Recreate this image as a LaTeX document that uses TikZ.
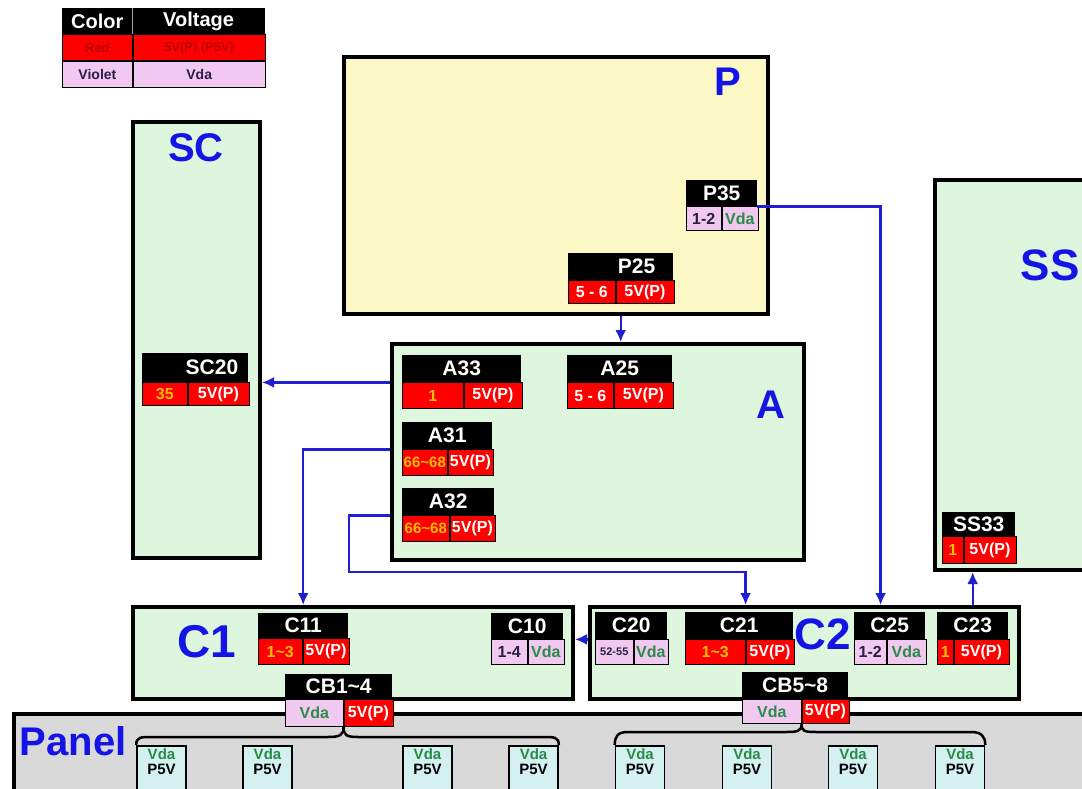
\documentclass[tikz,border=0pt]{standalone}
\usepackage{fontspec}
\setmainfont{Liberation Sans}
\usetikzlibrary{arrows.meta, positioning, calc}
\definecolor{boardgreen}{RGB}{221,246,221}
\definecolor{pyellow}{RGB}{252,248,198}
\definecolor{panelgray}{RGB}{217,217,217}
\definecolor{pincyan}{RGB}{212,240,240}
\definecolor{vio}{RGB}{240,200,240}
\definecolor{pinred}{RGB}{255,0,0}
\definecolor{pinyellow}{RGB}{255,190,0}
\definecolor{vdagreen}{RGB}{40,140,70}
\definecolor{labelblue}{RGB}{20,20,230}
\definecolor{wireblue}{RGB}{30,30,210}
\definecolor{darkvio}{RGB}{40,30,70}
\definecolor{darkred}{RGB}{185,0,0}
\newcommand{\fsz}[1]{\fontsize{#1}{#1}\selectfont\bfseries}

\begin{document}
\begin{tikzpicture}[
  x=1pt, y=-1pt,
  font=\fsz{16},
  >={Latex[length=12pt, width=11pt]},
  board/.style={draw, line width=4pt, fill=boardgreen, anchor=north west, inner sep=0pt},
  boardname/.style={text=labelblue, font=\fsz{40}},
  hdr/.style={fill=black, text=white, anchor=north west, inner sep=0pt, minimum height=27pt, font=\fsz{21}},
  cell/.style={draw, line width=0.6pt, anchor=north west, inner sep=0pt, font=\fsz{16}},
  cellw/.style={cell, fill=pinred, text=white},
  celly/.style={cell, fill=pinred, text=pinyellow},
  cellv/.style={cell, fill=vio, text=darkvio},
  cellg/.style={cell, fill=vio, text=vdagreen},
  lgh/.style={fill=black, text=white, anchor=north west, inner sep=0pt, minimum height=26pt, font=\fsz{20}},
  lgcell/.style={draw, line width=0.8pt, anchor=north west, inner sep=0pt, minimum height=26pt, font=\fsz{13}},
  pbox/.style={draw, line width=1.6pt, fill=pincyan, anchor=north, minimum width=49pt,
               inner sep=3pt, text depth=22pt, align=center, font=\fontsize{15}{15}\selectfont\bfseries},
  wire/.style={draw=wireblue, line width=2.4pt, ->},
  brace/.style={line width=2.5pt}
]
  \useasboundingbox (0,0) rectangle (1082,789);
  \clip (0,0) rectangle (1082,789);
  \fill[white] (0,0) rectangle (1082,789);

  % boards
  \node[board, fill=panelgray, minimum width=1090pt, minimum height=90pt] (Panel) at (12,712) {};
  \node[board, fill=pyellow, minimum width=424pt, minimum height=257pt] (P) at (342,55) {};
  \node[board, minimum width=127pt, minimum height=436pt] (SC) at (131,120) {};
  \node[board, minimum width=412pt, minimum height=216pt] (A) at (390,342) {};
  \node[board, minimum width=170pt, minimum height=390pt] (SS) at (933,178) {};
  \node[board, minimum width=440pt, minimum height=92pt] (C1) at (131,605) {};
  \node[board, minimum width=429pt, minimum height=92pt] (C2) at (588,605) {};

  \node[boardname] (Pname) at (728,82) {P};
  \node[boardname] (SCname) at (196,148) {SC};
  \node[boardname] (Aname) at (771,405) {A};
  \node[boardname, font=\fsz{44}] (SSname) at (1050,265) {SS};
  \node[boardname, font=\fsz{46}] (C1name) at (207,642) {C1};
  \node[boardname, font=\fsz{44}] (C2name) at (823,634) {C2};
  \node[boardname, font=\fsz{40}] (Panelname) at (73,741) {Panel};

  % legend
  \node[lgh, minimum width=70pt] (lgcolor) at (62,8) {Color};
  \node[lgh, minimum width=132pt] (lgvolt) at (lgcolor.north east) {Voltage};
  \node[lgcell, fill=pinred, text=darkred, minimum width=70pt] (lgred) at (lgcolor.south west) {Red};
  \node[lgcell, fill=pinred, text=darkred, minimum width=132pt] (lgredv) at (lgred.north east) {5V(P) (P5V)};
  \node[lgcell, fill=vio, text=darkvio, minimum width=70pt, font=\fsz{14}] (lgvio) at (lgred.south west) {Violet};
  \node[lgcell, fill=vio, text=darkvio, minimum width=132pt, font=\fsz{14}] (lgviov) at (lgvio.north east) {Vda};
  \draw[gray!70, line width=1pt] (lgcolor.north east) -- (lgcolor.south east);

  % connectors on P
  \node[hdr, minimum width=71pt, minimum height=26pt] (p35) at (686,180) {P35};
  \node[cellv, minimum width=35pt, minimum height=24pt] (p35l) at (p35.south west) {1-2};
  \node[cellg, minimum width=36pt, minimum height=24pt] (p35r) at (p35l.north east) {Vda};
  \node[hdr, minimum width=105pt, text width=69pt, align=right] (p25) at (568,253) {P25};
  \node[cellw, minimum width=47pt, minimum height=23pt] (p25l) at (p25.south west) {5 - 6};
  \node[cellw, minimum width=58pt, minimum height=23pt] (p25r) at (p25l.north east) {5V(P)};

  % connectors on A
  \node[hdr, minimum width=119pt] (a33) at (402,355) {A33};
  \node[celly, minimum width=61pt, minimum height=26pt] (a33l) at (a33.south west) {1};
  \node[cellw, minimum width=58pt, minimum height=26pt] (a33r) at (a33l.north east) {5V(P)};
  \node[hdr, minimum width=105pt] (a25) at (567,355) {A25};
  \node[cellw, minimum width=46pt, minimum height=26pt] (a25l) at (a25.south west) {5 - 6};
  \node[cellw, minimum width=59pt, minimum height=26pt] (a25r) at (a25l.north east) {5V(P)};
  \node[hdr, minimum width=90pt] (a31) at (402,422) {A31};
  \node[celly, minimum width=45pt, minimum height=26pt, font=\fsz{15}] (a31l) at (a31.south west) {66\textasciitilde 68};
  \node[cellw, minimum width=45pt, minimum height=26pt] (a31r) at (a31l.north east) {5V(P)};
  \node[hdr, minimum width=92pt] (a32) at (402,488) {A32};
  \node[celly, minimum width=47pt, minimum height=26pt, font=\fsz{15}] (a32l) at (a32.south west) {66\textasciitilde 68};
  \node[cellw, minimum width=45pt, minimum height=26pt] (a32r) at (a32l.north east) {5V(P)};

  % connectors on SC and SS
  \node[hdr, minimum width=106pt, minimum height=29pt, text width=86pt, align=right] (sc20) at (142,353) {SC20};
  \node[celly, minimum width=45pt, minimum height=23pt] (sc20l) at (sc20.south west) {35};
  \node[cellw, minimum width=61pt, minimum height=23pt] (sc20r) at (sc20l.north east) {5V(P)};
  \node[hdr, minimum width=73pt, minimum height=24pt] (ss33) at (942,512) {SS33};
  \node[celly, minimum width=21pt, minimum height=27pt] (ss33l) at (ss33.south west) {1};
  \node[cellw, minimum width=52pt, minimum height=27pt] (ss33r) at (ss33l.north east) {5V(P)};

  % connectors on C1
  \node[hdr, minimum width=90pt, minimum height=25pt] (c11) at (258,613) {C11};
  \node[celly, minimum width=44pt, minimum height=26pt] (c11l) at (c11.south west) {1\textasciitilde 3};
  \node[cellw, minimum width=46pt, minimum height=26pt] (c11r) at (c11l.north east) {5V(P)};
  \node[hdr, minimum width=72pt, minimum height=26pt] (c10) at (491,613) {C10};
  \node[cellv, minimum width=36pt, minimum height=25pt] (c10l) at (c10.south west) {1-4};
  \node[cellg, minimum width=36pt, minimum height=25pt] (c10r) at (c10l.north east) {Vda};
  \node[hdr, minimum width=107pt, minimum height=25pt] (cb14) at (285,674) {CB1\textasciitilde 4};
  \node[cellg, minimum width=58pt, minimum height=27pt] (cb14l) at (cb14.south west) {Vda};
  \node[cellw, minimum width=49pt, minimum height=27pt] (cb14r) at (cb14l.north east) {5V(P)};

  % connectors on C2
  \node[hdr, minimum width=72pt] (c20) at (595,612) {C20};
  \node[cellv, minimum width=38pt, minimum height=25pt, font=\fsz{11}] (c20l) at (c20.south west) {52-55};
  \node[cellg, minimum width=34pt, minimum height=25pt] (c20r) at (c20l.north east) {Vda};
  \node[hdr, minimum width=108pt] (c21) at (685,612) {C21};
  \node[celly, minimum width=60pt, minimum height=25pt] (c21l) at (c21.south west) {1\textasciitilde 3};
  \node[cellw, minimum width=48pt, minimum height=25pt] (c21r) at (c21l.north east) {5V(P)};
  \node[hdr, minimum width=71pt] (c25) at (854,612) {C25};
  \node[cellv, minimum width=32pt, minimum height=25pt] (c25l) at (c25.south west) {1-2};
  \node[cellg, minimum width=39pt, minimum height=25pt] (c25r) at (c25l.north east) {Vda};
  \node[hdr, minimum width=71pt] (c23) at (937,612) {C23};
  \node[celly, minimum width=16pt, minimum height=25pt] (c23l) at (c23.south west) {1};
  \node[cellw, minimum width=55pt, minimum height=25pt] (c23r) at (c23l.north east) {5V(P)};
  \node[hdr, minimum width=106pt] (cb58) at (742,672) {CB5\textasciitilde 8};
  \node[cellg, minimum width=59pt, minimum height=24pt] (cb58l) at (cb58.south west) {Vda};
  \node[cellw, minimum width=47pt, minimum height=24pt] (cb58r) at (cb58l.north east) {5V(P)};

  % panel sockets
  \foreach \x [count=\i] in {161.5, 267.5, 427.5, 533.5, 640, 747, 853, 960}
    \node[pbox] (pb\i) at (\x,745) {\textcolor{vdagreen}{Vda}\\P5V};

  % harness braces
  \draw[brace] (pb1.north west) .. controls +(0,-8) and +(-10,0) .. (151,737) -- (328,737)
    .. controls +(12,0) and +(0,8) .. (cb14l.south east);
  \draw[brace] (cb14l.south east) .. controls +(0,8) and +(-12,0) .. (358,737) -- (544,737)
    .. controls +(10,0) and +(0,-8) .. (pb4.north east);
  \draw[brace] (pb5.north west) .. controls +(0,-9) and +(-10,0) .. (628,732) -- (786,732)
    .. controls +(12,0) and +(0,7) .. (cb58l.south east);
  \draw[brace] (cb58l.south east) .. controls +(0,7) and +(-12,0) .. (816,732) -- (971,732)
    .. controls +(10,0) and +(0,-9) .. (pb8.north east);

  % supply wiring
  \draw[wire] (P.south -| p25) -- (A.north -| p25);
  \draw[wire] (a33.south -| A.west) -- (a33.south -| SC.east);
  \draw[wire] (a31.south -| A.west) -| (c11.north |- C1.north);
  \coordinate (a32jog) at (349,572);
  \draw[wire] (a32.south -| A.west) -| (a32jog) -| (c21l.north east |- C2.north);
  \draw[wire] (p35.south east) -| ([xshift=-6pt]c25l.north east |- C2.north);
  \draw[wire] (C2.west |- c20.south) -- (C1.east |- c20.south);
  \draw[wire] (C2.north -| c23) -- (SS.south -| c23);
\end{tikzpicture}
\end{document}
